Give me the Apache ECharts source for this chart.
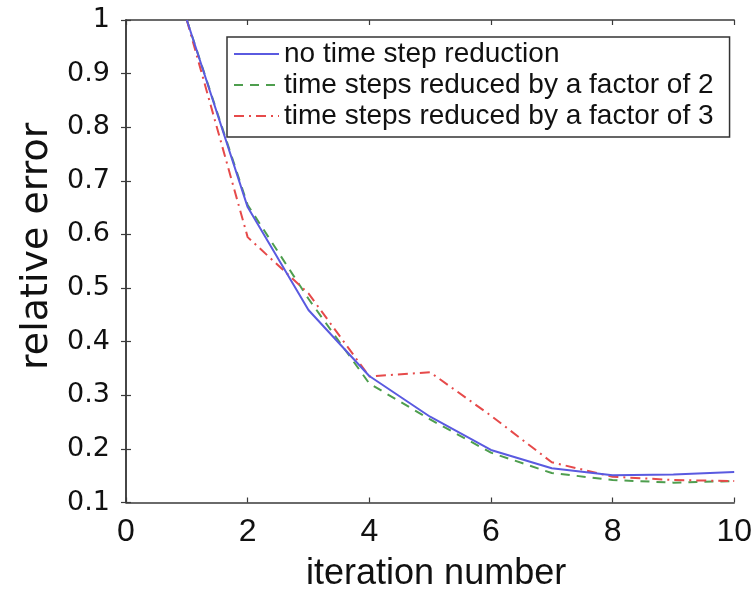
<!DOCTYPE html>
<html>
<head>
<meta charset="utf-8">
<script src="https://cdn.jsdelivr.net/npm/echarts@6/dist/echarts.min.js"></script>
<style>
  html, body { margin: 0; padding: 0; background: #fff; }
  #chart { width: 755px; height: 601px; }
</style>
</head>
<body>
<div id="chart"></div>
<script>
// ---- data ----
const iterations = [1, 2, 3, 4, 5, 6, 7, 8, 9, 10];
const noReduction = [1.0, 0.651, 0.459, 0.336, 0.26, 0.198, 0.164, 0.151, 0.152, 0.157];
const reducedBy2  = [1.0, 0.655, 0.48, 0.322, 0.255, 0.193, 0.155, 0.142, 0.137, 0.14];
const reducedBy3  = [1.0, 0.595, 0.49, 0.335, 0.343, 0.262, 0.175, 0.148, 0.142, 0.14];
const seriesNames = [
  'no time step reduction',
  'time steps reduced by a factor of 2',
  'time steps reduced by a factor of 3'
];
const xTicks = { min: 0, max: 10, step: 2 };
const yTicks = { min: 0.1, max: 1, step: 0.1 };

function pairs(xs, ys) { return xs.map((x, i) => [x, ys[i]]); }

const axisColor = '#3a3a3a';
const chart = echarts.init(document.getElementById('chart'), null, { renderer: 'canvas' });

const hiddenAxisCommon = {
  axisLine: { show: true, lineStyle: { color: axisColor, width: 1.5 } },
  axisTick: { show: true, inside: true, length: 5, lineStyle: { color: axisColor, width: 1.2 } },
  axisLabel: { show: false },
  splitLine: { show: false }
};

chart.setOption({
  animation: false,
  backgroundColor: '#ffffff',
  grid: { left: 126, right: 20, top: 20, bottom: 98.5, containLabel: false },
  legend: {
    orient: 'vertical',
    left: 227,
    top: 37,
    padding: [2, 16, 6, 6],
    itemWidth: 45,
    itemHeight: 1,
    itemGap: 1,
    itemStyle: { opacity: 0 },
    backgroundColor: '#ffffff',
    borderColor: '#333333',
    borderWidth: 1.5,
    borderRadius: 0,
    textStyle: { fontFamily: 'Liberation Sans', fontSize: 28, color: '#111', lineHeight: 30 },
    data: seriesNames
  },
  xAxis: [
    {
      type: 'value',
      position: 'bottom',
      min: xTicks.min, max: xTicks.max, interval: xTicks.step,
      name: 'iteration number',
      nameLocation: 'middle',
      nameGap: 54,
      nameTextStyle: { fontFamily: 'Liberation Sans', fontSize: 36, color: '#111', padding: [0, 0, 0, 12] },
      axisLine: { show: true, lineStyle: { color: axisColor, width: 1.5 } },
      axisTick: { show: true, inside: true, length: 5, lineStyle: { color: axisColor, width: 1.2 } },
      axisLabel: { margin: 14, fontFamily: 'Liberation Sans', fontSize: 32, color: '#111' },
      splitLine: { show: false }
    },
    Object.assign({
      type: 'value', position: 'top',
      min: xTicks.min, max: xTicks.max, interval: xTicks.step
    }, hiddenAxisCommon)
  ],
  yAxis: [
    {
      type: 'value',
      position: 'left',
      min: yTicks.min, max: yTicks.max, interval: yTicks.step,
      name: 'relative error',
      nameLocation: 'middle',
      nameGap: 69,
      nameTextStyle: { fontFamily: 'DejaVu Sans', fontSize: 38, color: '#111', padding: [0, 0, 0, 30] },
      axisLine: { show: true, lineStyle: { color: axisColor, width: 1.5 } },
      axisTick: { show: true, inside: true, length: 5, lineStyle: { color: axisColor, width: 1.2 } },
      axisLabel: {
        margin: 16, fontFamily: 'DejaVu Sans', fontSize: 27, color: '#111',
        formatter: v => String(Math.round(v * 10) / 10)
      },
      splitLine: { show: false }
    },
    Object.assign({
      type: 'value', position: 'right',
      min: yTicks.min, max: yTicks.max, interval: yTicks.step
    }, hiddenAxisCommon)
  ],
  series: [
    {
      name: seriesNames[0], type: 'line', xAxisIndex: 0, yAxisIndex: 0,
      data: pairs(iterations, noReduction),
      symbol: 'none', z: 3,
      itemStyle: { color: '#5a5ae0' },
      lineStyle: { color: '#5a5ae0', width: 2, type: 'solid' }
    },
    {
      name: seriesNames[1], type: 'line', xAxisIndex: 0, yAxisIndex: 0,
      data: pairs(iterations, reducedBy2),
      symbol: 'none', z: 2,
      itemStyle: { color: '#4e9e4e' },
      lineStyle: { color: '#4e9e4e', width: 2, type: [9, 7] }
    },
    {
      name: seriesNames[2], type: 'line', xAxisIndex: 0, yAxisIndex: 0,
      data: pairs(iterations, reducedBy3),
      symbol: 'none', z: 2,
      itemStyle: { color: '#e64a4a' },
      lineStyle: { color: '#e64a4a', width: 2, type: [10, 5, 2, 5] }
    }
  ]
});
</script>
</body>
</html>
